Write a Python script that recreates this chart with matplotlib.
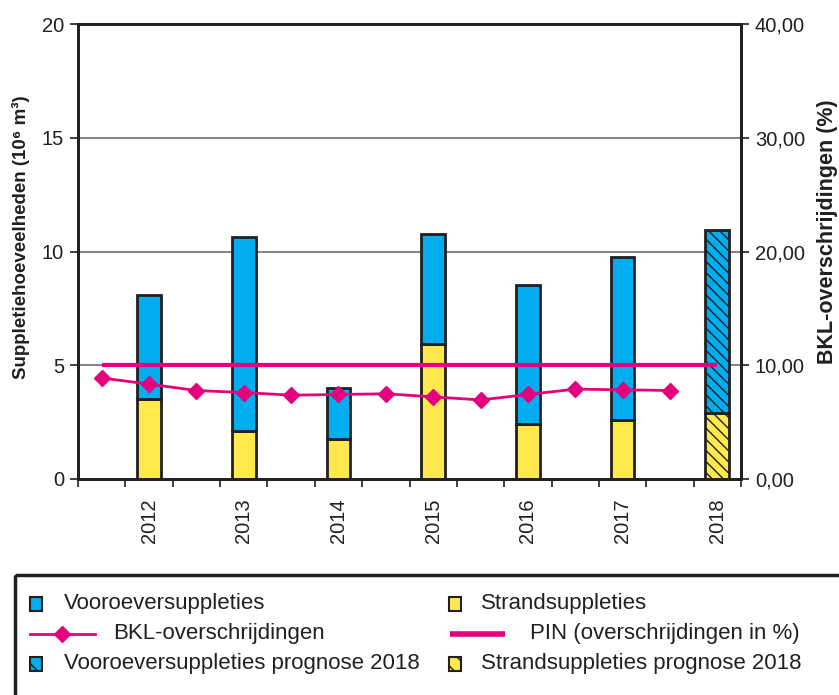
"""
Suppletiehoeveelheden 2012-2018 met BKL-overschrijdingen.
"""

import matplotlib
matplotlib.use("Agg")
import matplotlib.pyplot as plt
import matplotlib.patches as mpatches
from matplotlib.lines import Line2D
from matplotlib.ticker import FuncFormatter
import numpy as np

plt.rcParams['font.family'] = ['Liberation Sans', 'DejaVu Sans']
plt.rcParams['hatch.linewidth'] = 1.0

# data (10^6 m3)
jaren = ['2012', '2013', '2014', '2015', '2016', '2017', '2018']
strand = [3.52, 2.13, 1.75, 5.94, 2.40, 2.59, 2.88]
totaal = [8.09, 10.65, 3.99, 10.76, 8.51, 9.74, 10.94]
prognose = [False, False, False, False, False, False, True]

# BKL-overschrijdingen (%) op halve jaren
bkl_pos = [-0.5, 0, 0.5, 1, 1.5, 2, 2.5, 3, 3.5, 4, 4.5, 5, 5.5]
bkl = [8.88, 8.34, 7.78, 7.60, 7.37, 7.43, 7.49, 7.22, 6.95, 7.43, 7.90, 7.84, 7.78]
pin_pos = [-0.5, 6]
pin = [10.0, 10.0]

blauw = '#00adef'
geel = '#ffe94d'
roze = '#e5007d'
donker = '#231f20'
grijs = '#6d6e71'

vooroever = np.array(totaal) - np.array(strand)
x = np.arange(len(jaren))

fig = plt.figure(figsize=(8.39, 6.95), dpi=100)
ax = fig.add_axes([78/839, 1-479/695, 663/839, 455/695])

for i in x:
    h = '\\\\\\' if prognose[i] else None
    ax.bar(i, strand[i], width=0.25, color=geel, edgecolor=donker,
           linewidth=2, hatch=h, zorder=3)
    ax.bar(i, vooroever[i], bottom=strand[i], width=0.25, color=blauw,
           edgecolor=donker, linewidth=2, hatch=h, zorder=3)

ax.set_xlim(-0.75, 6.25)
ax.set_ylim(0, 20)
ax.set_yticks([0, 5, 10, 15, 20])
ax.yaxis.grid(True, color=grijs, linewidth=1.2, zorder=0)
ax.set_xticks(np.arange(-0.75, 6.3, 0.5))
ax.set_xticklabels([])
ax.set_xticks(x, minor=True)
ax.set_xticklabels(jaren, minor=True, rotation=90, fontsize=14.5, color=donker)
ax.tick_params(axis='x', which='minor', length=0, pad=14)
ax.tick_params(axis='x', which='major', length=6, width=1.2, color=donker)
ax.tick_params(axis='y', labelsize=14.5, length=6, width=1.2, color=donker,
               labelcolor=donker, pad=4)
for s in ax.spines.values():
    s.set_linewidth(2)
    s.set_color(donker)

ax2 = ax.twinx()
ax2.set_ylim(0, 40)
ax2.set_yticks([0, 10, 20, 30, 40])
ax2.yaxis.set_major_formatter(FuncFormatter(lambda v, p: f'{v:.2f}'.replace('.', ',')))
ax2.tick_params(axis='y', labelsize=14.5, length=6, width=1.2, color=donker,
                labelcolor=donker, pad=4)
for s in ax2.spines.values():
    s.set_linewidth(2)
    s.set_color(donker)
ax2.plot(pin_pos, pin, color=roze, linewidth=3, solid_capstyle='butt', zorder=4)
ax2.plot(bkl_pos, bkl, color=roze, linewidth=2, marker='D', markersize=8.5,
         zorder=5)

fig.text(21/839, 1-237/695, 'Suppletiehoeveelheden (10⁶ m³)', rotation=90,
         ha='center', va='center', fontsize=13.5, fontweight='bold', color=donker)
fig.text(828/839, 1-232/695, 'BKL-overschrijdingen (%)', rotation=90,
         ha='center', va='center', fontsize=15.5, fontweight='bold', color=donker)

# legenda in pixelcoordinaten
lg = fig.add_axes([0, 0, 1, 1])
lg.set_xlim(0, 839)
lg.set_ylim(695, 0)
lg.set_axis_off()
lg.add_patch(mpatches.Rectangle((15, 575), 900, 200, fill=False,
                                edgecolor=donker, linewidth=2.5))
rijen = [604, 634, 664]
fs = 16
lg.add_patch(mpatches.Rectangle((30, rijen[0]-7), 12, 14, facecolor=blauw,
                                edgecolor=donker, linewidth=1.5))
lg.text(64, rijen[0], 'Vooroeversuppleties', va='center', fontsize=fs, color=donker)
lg.add_patch(mpatches.Rectangle((449, rijen[0]-7), 12, 14, facecolor=geel,
                                edgecolor=donker, linewidth=1.5))
lg.text(481, rijen[0], 'Strandsuppleties', va='center', fontsize=fs, color=donker)
lg.add_line(Line2D([30, 95], [rijen[1], rijen[1]], color=roze, linewidth=2))
lg.add_line(Line2D([62], [rijen[1]], color=roze, marker='D', markersize=8.5))
lg.text(113, rijen[1], 'BKL-overschrijdingen', va='center', fontsize=fs, color=donker)
lg.add_line(Line2D([450, 505], [rijen[1], rijen[1]], color=roze, linewidth=4,
                   solid_capstyle='butt'))
lg.text(530, rijen[1], 'PIN (overschrijdingen in %)', va='center', fontsize=fs,
        color=donker)
lg.add_patch(mpatches.Rectangle((30, rijen[2]-7), 12, 14, facecolor=blauw,
                                edgecolor=donker, linewidth=1.5, hatch='\\\\'))
lg.text(64, rijen[2], 'Vooroeversuppleties prognose 2018', va='center',
        fontsize=fs, color=donker)
lg.add_patch(mpatches.Rectangle((449, rijen[2]-7), 12, 14, facecolor=geel,
                                edgecolor=donker, linewidth=1.5, hatch='\\\\'))
lg.text(481, rijen[2], 'Strandsuppleties prognose 2018', va='center',
        fontsize=fs, color=donker)

plt.savefig('out.png', dpi=100)
